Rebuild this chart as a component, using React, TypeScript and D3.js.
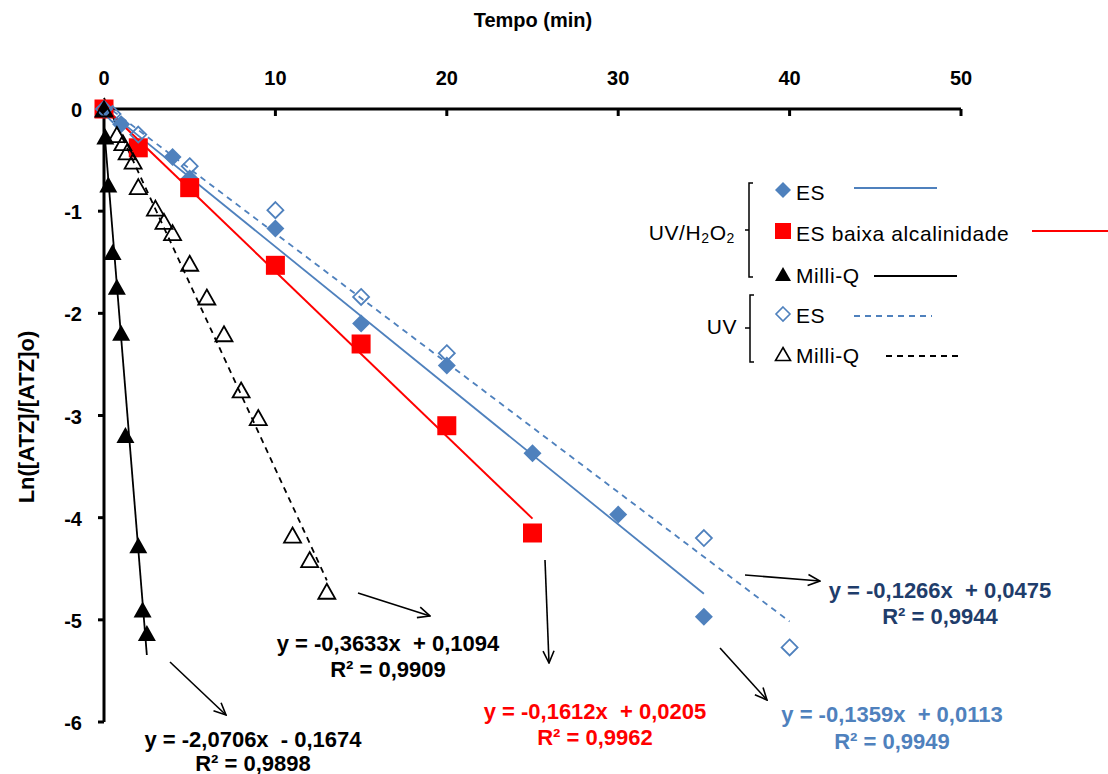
import React from "react";
import * as d3 from "d3";

// ---- data ----
const xTicks = [0, 10, 20, 30, 40, 50];
const yTicks = [0, -1, -2, -3, -4, -5, -6];

// UV/H2O2 – ES (filled diamond)
const tES = [0, 1, 4, 5, 10, 15, 20, 25, 30, 35];
const yES = [0, -0.15, -0.47, -0.68, -1.17, -2.1, -2.51, -3.37, -3.97, -4.97];
// UV/H2O2 – ES baixa alcalinidade (red square)
const tESb = [0, 2, 5, 10, 15, 20, 25];
const yESb = [0, -0.38, -0.77, -1.53, -2.3, -3.1, -4.15];
// UV/H2O2 – Milli-Q (filled triangle)
const tMQ = [0, 0.08, 0.25, 0.5, 0.75, 1, 1.25, 2, 2.25, 2.5];
const yMQ = [0, -0.27, -0.74, -1.4, -1.74, -2.19, -3.19, -4.27, -4.9, -5.13];
// UV – ES (open diamond)
const tESuv = [0, 0.5, 2, 5, 10, 15, 20, 35, 40];
const yESuv = [0, -0.05, -0.25, -0.56, -0.99, -1.84, -2.39, -4.2, -5.27];
// UV – Milli-Q (open triangle)
const tMQuv = [0, 0.75, 1.1, 1.35, 1.7, 2, 3, 3.5, 4, 5, 6, 7, 8, 9, 11, 12, 13];
const yMQuv = [0, -0.25, -0.33, -0.42, -0.51, -0.76, -0.97, -1.1, -1.21, -1.51, -1.84, -2.2, -2.75, -3.02, -4.17, -4.41, -4.72];

// trendlines: slope, intercept, x range
const trendNames = ["ES", "ESb", "MQ", "ESuv", "MQuv"];
const trendSlope = [-0.1359, -0.1612, -2.0706, -0.1266, -0.3633];
const trendIntercept = [0.0113, 0.0205, -0.1674, 0.0475, 0.1094];
const trendXMax = [35, 25, 2.5, 40, 13];

const eqLines1 = [
  "y = -2,0706x  - 0,1674",
  "y = -0,3633x  + 0,1094",
  "y = -0,1612x  + 0,0205",
  "y = -0,1359x  + 0,0113",
  "y = -0,1266x  + 0,0475",
];
const eqLines2 = ["R² = 0,9898", "R² = 0,9909", "R² = 0,9962", "R² = 0,9949", "R² = 0,9944"];

const BLUE = "#4F81BD";
const RED = "#FF0000";
const DARKBLUE = "#1F3D6B";

const W = 1108;
const H = 774;

const x = d3.scaleLinear().domain([0, 50]).range([104, 961]);
const y = d3.scaleLinear().domain([-6, 0]).range([722, 109]);

const diamond = (cx: number, cy: number, r: number) =>
  `M${cx},${cy - r}L${cx + r},${cy}L${cx},${cy + r}L${cx - r},${cy}Z`;
const triangle = (cx: number, cy: number, w: number, h: number) =>
  `M${cx},${cy - h / 2}L${cx + w / 2},${cy + h / 2}L${cx - w / 2},${cy + h / 2}Z`;

const line = d3
  .line<[number, number]>()
  .x((d) => x(d[0]))
  .y((d) => y(d[1]));

const trendStyle: Record<string, { stroke: string; dash?: string; width: number }> = {
  ES: { stroke: BLUE, width: 1.8 },
  ESb: { stroke: RED, width: 2 },
  MQ: { stroke: "#000", width: 1.8 },
  ESuv: { stroke: BLUE, width: 1.8, dash: "6,5" },
  MQuv: { stroke: "#000", width: 1.8, dash: "6,5" },
};

const font = "'Liberation Sans', Arial, sans-serif";

export default function App() {
  const eqPos = [
    { cx: 253, y1: 739, y2: 763, color: "#000" },
    { cx: 388, y1: 643, y2: 669, color: "#000" },
    { cx: 595, y1: 711, y2: 737, color: RED },
    { cx: 892, y1: 714, y2: 741, color: BLUE },
    { cx: 940, y1: 590, y2: 616, color: DARKBLUE },
  ];
  const arrows = [
    [170, 662, 226, 715],
    [358, 593, 430, 616],
    [545, 560, 549, 663],
    [720, 648, 767, 700],
    [745, 575, 820, 581],
  ];
  return (
    <svg
      width={W}
      height={H}
      style={{ position: "absolute", left: 0, top: 0, background: "#fff" }}
      fontFamily={font}
    >
      <defs>
        <marker
          id="arr"
          viewBox="0 0 14 14"
          refX="13"
          refY="7"
          markerWidth="14"
          markerHeight="14"
          markerUnits="userSpaceOnUse"
          orient="auto"
        >
          <path d="M1,1.5 L13,7 L1,12.5" fill="none" stroke="#000" strokeWidth="1.6" />
        </marker>
      </defs>
      <rect x={0} y={0} width={W} height={H} fill="#fff" />

      {/* axis title */}
      <text x={533} y={20} textAnchor="middle" dominantBaseline="central" fontWeight="bold" fontSize={20}>
        Tempo (min)
      </text>
      <text
        transform={`translate(26,417) rotate(-90)`}
        textAnchor="middle"
        dominantBaseline="central"
        fontWeight="bold"
        fontSize={22}
      >
        Ln([ATZ]/[ATZ]o)
      </text>

      {/* x axis (top) */}
      <line x1={x(0)} x2={x(50)} y1={y(0)} y2={y(0)} stroke="#000" strokeWidth={3} />
      {xTicks.map((t) => (
        <g key={"xt" + t}>
          <line x1={x(t)} x2={x(t)} y1={y(0)} y2={y(0) + 7} stroke="#000" strokeWidth={3} />
          <text x={x(t)} y={78} textAnchor="middle" dominantBaseline="central" fontWeight="bold" fontSize={20}>
            {t}
          </text>
        </g>
      ))}
      {/* y axis */}
      <line x1={x(0)} x2={x(0)} y1={y(0)} y2={y(-6)} stroke="#000" strokeWidth={3} />
      {yTicks.map((t) => (
        <g key={"yt" + t}>
          <line x1={x(0) - 6} x2={x(0)} y1={y(t)} y2={y(t)} stroke="#000" strokeWidth={3} />
          <text x={82} y={y(t) + 1} textAnchor="end" dominantBaseline="central" fontWeight="bold" fontSize={20}>
            {t}
          </text>
        </g>
      ))}

      {/* trendlines */}
      {trendNames.map((n, i) => {
        const s = trendStyle[n];
        const pts: [number, number][] = [
          [0, trendIntercept[i]],
          [trendXMax[i], trendIntercept[i] + trendSlope[i] * trendXMax[i]],
        ];
        return (
          <path
            key={"tr" + n}
            d={line(pts) || ""}
            fill="none"
            stroke={s.stroke}
            strokeWidth={s.width}
            strokeDasharray={s.dash}
          />
        );
      })}

      {/* markers */}
      {tES.map((t, i) => (
        <path key={"es" + i} d={diamond(x(t), y(yES[i]), 9)} fill={BLUE} />
      ))}
      {tESb.map((t, i) => (
        <rect key={"esb" + i} x={x(t) - 9.5} y={y(yESb[i]) - 9.5} width={19} height={19} fill={RED} />
      ))}
      {tMQ.map((t, i) => (
        <path key={"mq" + i} d={triangle(x(t), y(yMQ[i]), 18, 16)} fill="#000" />
      ))}
      {tESuv.map((t, i) => (
        <path key={"esuv" + i} d={diamond(x(t), y(yESuv[i]), 8)} fill="none" stroke={BLUE} strokeWidth={1.8} />
      ))}
      {tMQuv.map((t, i) => (
        <path
          key={"mquv" + i}
          d={triangle(x(t), y(yMQuv[i]), 17, 15)}
          fill="none"
          stroke="#000"
          strokeWidth={1.8}
          strokeLinejoin="miter"
        />
      ))}

      {/* arrows */}
      {arrows.map((a, i) => (
        <line
          key={"ar" + i}
          x1={a[0]}
          y1={a[1]}
          x2={a[2]}
          y2={a[3]}
          stroke="#000"
          strokeWidth={1.6}
          markerEnd="url(#arr)"
        />
      ))}

      {/* equations */}
      {eqPos.map((p, i) => (
        <g key={"eq" + i} fontWeight="bold" fontSize={22} fill={p.color} textAnchor="middle">
          <text x={p.cx} y={p.y1} dominantBaseline="central" xmlSpace="preserve">
            {eqLines1[i]}
          </text>
          <text x={p.cx} y={p.y2} dominantBaseline="central">
            {eqLines2[i]}
          </text>
        </g>
      ))}

      {/* legend */}
      <g fontSize={21} letterSpacing={0.6}>
        <text x={735} y={232} textAnchor="end" dominantBaseline="central">
          UV/H<tspan fontSize={14} dy={6}>2</tspan>
          <tspan dy={-6}>O</tspan>
          <tspan fontSize={14} dy={6}>2</tspan>
        </text>
        <path d="M753,183 H749 V277 H753 M749,230 H745" fill="none" stroke="#000" strokeWidth={1.5} />
        <text x={737} y={326} textAnchor="end" dominantBaseline="central">
          UV
        </text>
        <path d="M754,295 H750 V362 H754 M750,328 H745" fill="none" stroke="#000" strokeWidth={1.5} />

        <path d={diamond(783, 190, 8)} fill={BLUE} />
        <text x={796} y={192} dominantBaseline="central">ES</text>
        <line x1={854} x2={937} y1={188} y2={188} stroke={BLUE} strokeWidth={1.8} />

        <rect x={775} y={223} width={16} height={16} fill={RED} />
        <text x={796} y={233} dominantBaseline="central">ES baixa alcalinidade</text>
        <line x1={1032} x2={1108} y1={231} y2={231} stroke={RED} strokeWidth={2} />

        <path d={triangle(783, 274, 16, 14)} fill="#000" />
        <text x={796} y={275} dominantBaseline="central">Milli-Q</text>
        <line x1={874} x2={957} y1={276} y2={276} stroke="#000" strokeWidth={1.8} />

        <path d={diamond(783, 314, 7)} fill="none" stroke={BLUE} strokeWidth={1.6} />
        <text x={796} y={315} dominantBaseline="central">ES</text>
        <line x1={854} x2={932} y1={316} y2={316} stroke={BLUE} strokeWidth={1.8} strokeDasharray="6,5" />

        <path d={triangle(783, 354, 15, 13)} fill="none" stroke="#000" strokeWidth={1.6} />
        <text x={796} y={355} dominantBaseline="central">Milli-Q</text>
        <line x1={886} x2={963} y1={356} y2={356} stroke="#000" strokeWidth={1.8} strokeDasharray="6,5" />
      </g>
    </svg>
  );
}
